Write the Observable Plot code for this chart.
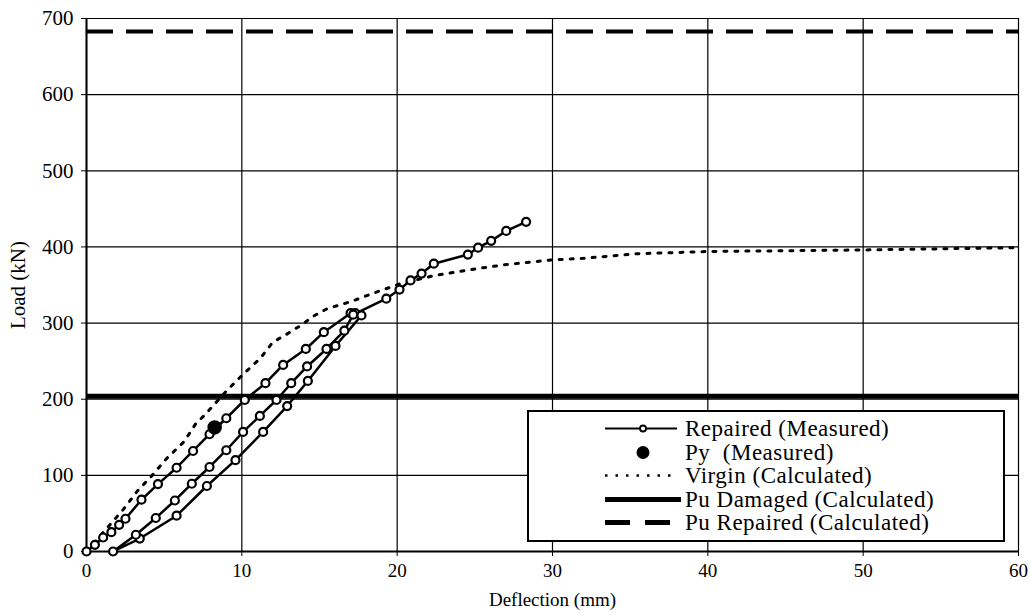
<!DOCTYPE html>
<html>
<head>
<meta charset="utf-8">
<script src="https://cdn.jsdelivr.net/npm/d3@7"></script>
<script src="https://cdn.jsdelivr.net/npm/@observablehq/plot@0.6"></script>
<style>
  html, body { margin: 0; padding: 0; background: #fff; }
  #wrap { position: relative; width: 1031px; height: 615px; font-family: "Liberation Serif", "Times New Roman", serif; }
  #legend { position: absolute; left: 527px; top: 410px; width: 474px; height: 128px; background: #fff; border: 2px solid #000; }
  .row { position: absolute; left: 0; height: 23px; width: 100%; }
  .row svg { position: absolute; left: 76px; top: 0; }
  .row span { position: absolute; left: 156px; top: 0; font-size: 23px; line-height: 23px; letter-spacing: 0.5px; white-space: pre; color: #000; }
</style>
</head>
<body>
<div id="wrap">
  <div id="chart"></div>
  <div id="legend"></div>
</div>
<script>
// ---- data ----
const xTicks = [0, 10, 20, 30, 40, 50, 60];
const yTicks = [0, 100, 200, 300, 400, 500, 600, 700];

// Repaired (Measured): loading, unloading, reloading (deflection mm, load kN)
const repairedDefl = [0, 0.54, 1.07, 1.6, 2.1, 2.51, 3.54, 4.6, 5.8, 6.86, 7.92, 9.0, 10.19, 11.52, 12.66, 14.12, 15.28, 17.0, 17.3, 17.7,
  16.03, 14.25, 12.92, 11.37, 9.59, 7.75, 5.8, 3.43, 1.71,
  3.18, 4.46, 5.69, 6.78, 7.92, 9.0, 10.08, 11.16, 12.23, 13.18, 14.2, 15.45, 16.6, 17.17,
  19.3, 20.15, 20.86, 21.57, 22.36, 24.55, 25.21, 26.05, 27.02, 28.3];
const repairedLoad = [0, 8.8, 18.4, 25.4, 35, 43, 68, 88.5, 110, 132, 154, 175, 199, 221, 245, 266, 288, 313, 313, 310,
  270, 224, 191, 157, 120, 86, 47, 17, 0,
  22, 44, 67, 89, 111, 133, 157, 178, 199, 221, 243, 266, 290, 311,
  332, 344, 356, 365, 378, 390, 399, 408, 421, 433];

// Py (Measured)
const pyDefl = [8.25];
const pyLoad = [163];

// Virgin (Calculated)
const virginDefl = [0, 2.36, 3.26, 4.23, 5.15, 6.27, 7.04, 7.6, 9.06, 10.2, 11.2, 12.0, 12.7, 13.8, 14.6, 15.5, 17.0, 18.3, 20.1, 22.3, 25.3, 27.1, 30.0, 32.0, 35.4, 40.0, 45.0, 50.0, 56.5, 60.0];
const virginLoad = [0, 55, 79, 100, 122, 144, 168, 179, 212, 235, 254, 275, 283, 297, 309, 319, 328, 338, 351, 362, 372, 377, 383, 385, 391, 394, 395, 396, 398, 399];

// Horizontal capacities
const puDamaged = 204;
const puRepaired = 683;

const legendLabels = ["Repaired (Measured)", "Py  (Measured)", "Virgin (Calculated)", "Pu Damaged (Calculated)", "Pu Repaired (Calculated)"];

// ---- tables ----
const repaired = repairedDefl.map((d, i) => ({x: d, y: repairedLoad[i]}));
const py = pyDefl.map((d, i) => ({x: d, y: pyLoad[i]}));
const virgin = virginDefl.map((d, i) => ({x: d, y: virginLoad[i]}));

const chart = Plot.plot({
  width: 1031,
  height: 615,
  marginLeft: 86,
  marginRight: 13,
  marginTop: 18,
  marginBottom: 64,
  style: {fontFamily: "'Liberation Serif', 'Times New Roman', serif", fontSize: "20px", color: "#000", background: "#fff"},
  x: {domain: [0, 60]},
  y: {domain: [0, 700]},
  marks: [
    Plot.gridX(xTicks, {stroke: "#000", strokeOpacity: 1, strokeWidth: 1.2}),
    Plot.gridY(yTicks, {stroke: "#000", strokeOpacity: 1, strokeWidth: 1.2}),
    Plot.axisX(xTicks, {tickSize: 5, tickPadding: 7, tickFormat: d => d, fontSize: 19,
      label: "Deflection (mm)", labelAnchor: "center", labelArrow: "none", labelOffset: 54}),
    Plot.axisY(yTicks, {tickSize: 5, tickPadding: 8, tickFormat: d => d, fontSize: 21,
      label: "Load (kN)", labelAnchor: "center", labelArrow: "none", labelOffset: 76}),
    Plot.ruleX([0], {stroke: "#000", strokeWidth: 2}),
    Plot.ruleY([0], {stroke: "#000", strokeWidth: 2}),
    Plot.ruleY([puRepaired], {stroke: "#000", strokeWidth: 4, strokeDasharray: "27,13"}),
    Plot.ruleY([puDamaged], {stroke: "#000", strokeWidth: 5}),
    Plot.line(virgin, {x: "x", y: "y", stroke: "#000", strokeWidth: 3, strokeDasharray: "3,8"}),
    Plot.line(repaired, {x: "x", y: "y", stroke: "#000", strokeWidth: 2.5}),
    Plot.dot(repaired, {x: "x", y: "y", r: 4, fill: "#fff", stroke: "#000", strokeWidth: 2.2}),
    Plot.dot(py, {x: "x", y: "y", r: 6.5, fill: "#000", stroke: "#000"})
  ]
});
document.getElementById("chart").appendChild(chart);

// ---- legend ----
const legend = d3.select("#legend");
const samples = [
  g => { g.append("line").attr("x1", 0).attr("x2", 72).attr("y1", 11.5).attr("y2", 11.5).attr("stroke", "#000").attr("stroke-width", 2.2);
         g.append("circle").attr("cx", 38).attr("cy", 11.5).attr("r", 3).attr("fill", "#fff").attr("stroke", "#000").attr("stroke-width", 1.8); },
  g => { g.append("circle").attr("cx", 38).attr("cy", 11.5).attr("r", 6.5).attr("fill", "#000"); },
  g => { g.append("line").attr("x1", 0).attr("x2", 72).attr("y1", 11.5).attr("y2", 11.5).attr("stroke", "#000").attr("stroke-width", 2.5).attr("stroke-dasharray", "2.5,8"); },
  g => { g.append("line").attr("x1", 0).attr("x2", 76).attr("y1", 11.5).attr("y2", 11.5).attr("stroke", "#000").attr("stroke-width", 5); },
  g => { g.append("line").attr("x1", 0).attr("x2", 66).attr("y1", 11.5).attr("y2", 11.5).attr("stroke", "#000").attr("stroke-width", 5).attr("stroke-dasharray", "25,15"); }
];
legendLabels.forEach((lab, i) => {
  const row = legend.append("div").attr("class", "row").style("top", (5 + i * 23.5) + "px");
  const svg = row.append("svg").attr("width", 80).attr("height", 23);
  samples[i](svg.append("g"));
  row.append("span").text(lab);
});
</script>
</body>
</html>
